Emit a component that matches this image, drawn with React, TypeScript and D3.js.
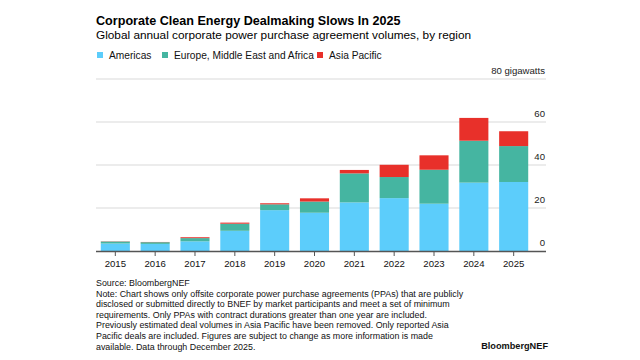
import React, { useEffect, useRef } from "react";
import * as d3 from "d3";

// Chart data (gigawatts)
const years = ["2015", "2016", "2017", "2018", "2019", "2020", "2021", "2022", "2023", "2024", "2025"];
const americas = [3.5, 3.3, 4.5, 9.4, 19.0, 17.8, 22.6, 24.6, 22.0, 31.8, 32.1];
const emea = [0.9, 0.8, 1.5, 3.3, 2.7, 5.2, 13.5, 9.8, 15.8, 19.5, 16.7];
const asiaPacific = [0.1, 0.1, 0.4, 0.5, 0.5, 1.5, 1.6, 5.7, 6.7, 10.6, 6.9];
const seriesNames = ["Americas", "Europe, Middle East and Africa", "Asia Pacific"];
const seriesColors = ["#5ccdfb", "#45b5a1", "#e8302a"];
const yTicks = [0, 20, 40, 60, 80];

const noteLines = [
  "Source: BloombergNEF",
  "Note: Chart shows only offsite corporate power purchase agreements (PPAs) that are publicly",
  "disclosed or submitted directly to BNEF by market participants and meet a set of minimum",
  "requirements. Only PPAs with contract durations greater than one year are included.",
  "Previously estimated deal volumes in Asia Pacific have been removed. Only reported Asia",
  "Pacific deals are included. Figures are subject to change as more information is made",
  "available. Data through December 2025.",
];

export default function App() {
  const svgRef = useRef<SVGSVGElement>(null);

  useEffect(() => {
    const width = 640;
    const height = 360;
    const font = "Helvetica, Arial, 'Liberation Sans', sans-serif";

    const svg = d3.select(svgRef.current)
      .attr("width", width)
      .attr("height", height)
      .style("font-family", font);

    svg.selectAll("*").remove();

    svg.append("rect").attr("width", width).attr("height", height).attr("fill", "#fff");

    // Titles
    svg.append("text")
      .attr("x", 96).attr("y", 24.5)
      .attr("font-size", 12.6).attr("font-weight", 700).attr("fill", "#000")
      .text("Corporate Clean Energy Dealmaking Slows In 2025");
    svg.append("text")
      .attr("x", 96).attr("y", 39)
      .attr("font-size", 11.8).attr("fill", "#000")
      .text("Global annual corporate power purchase agreement volumes, by region");

    // Legend
    const legendX = [97, 162, 317];
    seriesNames.forEach((name, i) => {
      svg.append("rect")
        .attr("x", legendX[i]).attr("y", 52).attr("width", 6).attr("height", 6)
        .attr("fill", seriesColors[i]);
      svg.append("text")
        .attr("x", legendX[i] + 12).attr("y", 58.5)
        .attr("font-size", 10.2).attr("fill", "#111")
        .text(name);
    });

    // Scales
    const x = d3.scaleBand().domain(years).range([96, 533]).paddingInner(0.27).paddingOuter(0.12);
    const y = d3.scaleLinear().domain([0, 80]).range([251, 79]);

    // Gridlines and tick labels
    const grid = svg.append("g");
    yTicks.forEach(t => {
      if (t > 0) {
        grid.append("line")
          .attr("x1", 96).attr("x2", 546)
          .attr("y1", y(t)).attr("y2", y(t))
          .attr("stroke", "#d9d9d9").attr("stroke-width", 1);
      }
      grid.append("text")
        .attr("x", 545).attr("y", y(t) - 5)
        .attr("text-anchor", "end")
        .attr("font-size", 9.6).attr("fill", "#222")
        .text(t === 80 ? "80 gigawatts" : String(t));
    });

    // Stacked bars
    const rows = years.map((yr, i) => ({ year: yr, a: americas[i], e: emea[i], p: asiaPacific[i] }));
    const stack = d3.stack<any>().keys(["a", "e", "p"]);
    const layers = stack(rows);

    svg.append("g")
      .selectAll("g")
      .data(layers)
      .join("g")
      .attr("fill", (_, i) => seriesColors[i])
      .selectAll("rect")
      .data(d => d)
      .join("rect")
      .attr("x", d => x(d.data.year)!)
      .attr("width", x.bandwidth())
      .attr("y", d => y(d[1]))
      .attr("height", d => y(d[0]) - y(d[1]));

    // Baseline axis
    svg.append("line")
      .attr("x1", 96).attr("x2", 546)
      .attr("y1", y(0) + 0.5).attr("y2", y(0) + 0.5)
      .attr("stroke", "#555").attr("stroke-width", 1.5);

    const xAxis = svg.append("g");
    years.forEach(yr => {
      const cx = x(yr)! + x.bandwidth() / 2;
      xAxis.append("line")
        .attr("x1", cx).attr("x2", cx)
        .attr("y1", y(0) + 1).attr("y2", y(0) + 5)
        .attr("stroke", "#555");
      xAxis.append("text")
        .attr("x", cx).attr("y", y(0) + 16)
        .attr("text-anchor", "middle")
        .attr("font-size", 9.6).attr("fill", "#111")
        .text(yr);
    });

    // Footer notes
    noteLines.forEach((line, i) => {
      svg.append("text")
        .attr("x", 96).attr("y", 286 + i * 10.6)
        .attr("font-size", 8.9).attr("fill", "#111")
        .text(line);
    });

    svg.append("text")
      .attr("x", 548).attr("y", 349)
      .attr("text-anchor", "end")
      .attr("font-size", 9.2).attr("font-weight", 700).attr("fill", "#111")
      .text("BloombergNEF");

    return () => {
      d3.select(svgRef.current).selectAll("*").remove();
    };
  }, []);

  return (
    <div style={{ position: "fixed", left: 0, top: 0 }}>
      <svg ref={svgRef} style={{ display: "block" }} />
    </div>
  );
}
